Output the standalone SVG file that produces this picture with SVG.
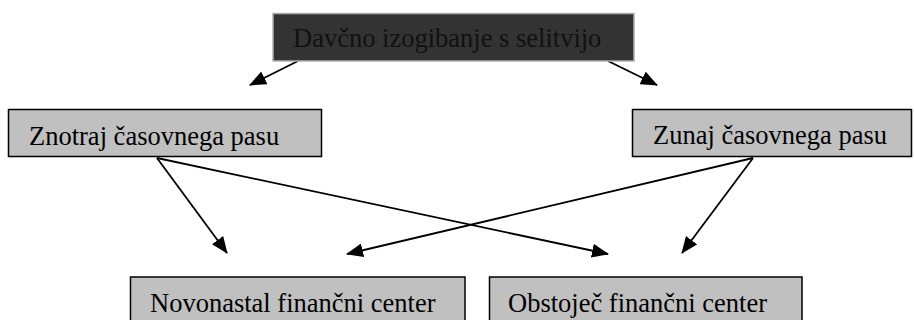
<svg xmlns="http://www.w3.org/2000/svg" width="914" height="320" viewBox="0 0 914 320">
<style>
  .box { fill: #c0c0c0; stroke: #000; stroke-width: 1.5; }
  .dark { fill: #333333; stroke: #b0b0b0; stroke-width: 1.5; }
  .lbl { font-family: 'Liberation Serif', 'DejaVu Serif', serif; font-size: 26.5px; fill: #000; }
  .lbl-dark { font-family: 'Liberation Serif', 'DejaVu Serif', serif; font-size: 26.5px; fill: #111; }
  .conn { stroke: #000; stroke-width: 1.8; fill: none; marker-end: url(#arrow); }
</style>
<defs>
  <marker id="arrow" markerUnits="userSpaceOnUse" markerWidth="17" markerHeight="14" viewBox="0 0 17 14" refX="16" refY="7" orient="auto">
    <path d="M0,0 L17,7 L0,14 z" fill="#000"/>
  </marker>
</defs>
<rect width="914" height="320" fill="#fff"/>
<g id="connectors">
  <line class="conn" x1="298" y1="61" x2="250" y2="85"/>
  <line class="conn" x1="608" y1="61" x2="657" y2="85"/>
  <line class="conn" x1="157" y1="158" x2="227" y2="253"/>
  <line class="conn" x1="157" y1="158" x2="608" y2="254"/>
  <line class="conn" x1="753" y1="158" x2="347" y2="254"/>
  <line class="conn" x1="753" y1="158" x2="682" y2="253"/>
</g>
<g id="node-top">
  <rect class="dark" x="273" y="13.5" width="361" height="47.5"/>
  <text class="lbl-dark" x="293" y="47">Davčno izogibanje s selitvijo</text>
</g>
<g id="node-znotraj">
  <rect class="box" x="8.5" y="109.5" width="313" height="47"/>
  <text class="lbl" x="29" y="145">Znotraj časovnega pasu</text>
</g>
<g id="node-zunaj">
  <rect class="box" x="632.5" y="109.5" width="279" height="47"/>
  <text class="lbl" x="653" y="144">Zunaj časovnega pasu</text>
</g>
<g id="node-novonastal">
  <rect class="box" x="130.5" y="277" width="334.5" height="46"/>
  <text class="lbl" x="150" y="312">Novonastal finančni center</text>
</g>
<g id="node-obstojec">
  <rect class="box" x="489.5" y="277" width="312.5" height="46"/>
  <text class="lbl" x="508" y="312">Obstoječ finančni center</text>
</g>
</svg>
